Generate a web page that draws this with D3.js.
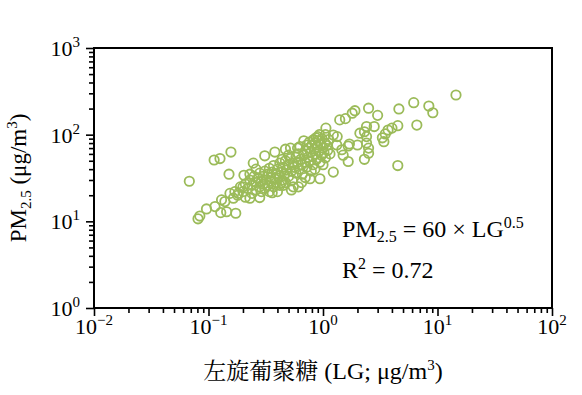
<!DOCTYPE html>
<html>
<head>
<meta charset="utf-8">
<title></title>
<script src="https://cdn.jsdelivr.net/npm/d3@7"></script>
<style>
  body { margin: 0; background: #fff; }
  text { font-family: "Liberation Serif", "Times New Roman", serif; fill: #000; }
</style>
</head>
<body>
<div id="chart"></div>
<script>
// LG (x, ug/m3) and PM2.5 (y, ug/m3)
var lg = [0.068, 14.5, 6.2, 8.4, 9.1, 4.6, 2.5, 3.0, 1.9, 1.8, 1.57, 1.4, 4.5, 6.6, 4.5, 4.0, 3.7, 3.5, 3.4, 2.8,
  2.4, 2.4, 2.5, 2.5, 2.3, 2.1, 2.0, 1.7, 1.66, 1.66, 1.5, 1.33, 1.32, 1.23, 1.06, 0.94, 0.77, 3.3, 2.3, 2.4,
  1.46, 1.23,
  0.112, 0.126, 0.157, 0.151, 0.081, 0.084, 0.096, 0.114, 0.128, 0.144, 0.173, 0.13, 0.139, 0.154, 0.165, 0.182, 0.2, 0.204,
  0.246, 0.31, 0.38, 0.47, 0.52, 0.63, 0.53, 0.61, 0.435, 0.36, 0.28, 0.23,
  0.20, 0.21, 0.22, 0.23, 0.24, 0.24, 0.25, 0.26, 0.26, 0.27, 0.28, 0.28, 0.29, 0.29, 0.30, 0.30, 0.31, 0.31, 0.32, 0.33,
  0.33, 0.34, 0.34, 0.35, 0.35, 0.36, 0.37, 0.37, 0.38, 0.39, 0.39, 0.40, 0.41, 0.42, 0.42, 0.43, 0.44, 0.45, 0.46, 0.47,
  0.47, 0.48, 0.50, 0.50, 0.52, 0.53, 0.54, 0.55, 0.56, 0.58, 0.58, 0.60, 0.61, 0.62, 0.64, 0.65, 0.66, 0.68, 0.70, 0.70,
  0.72, 0.74, 0.75, 0.76, 0.78, 0.79, 0.80, 0.81, 0.82, 0.84, 0.85, 0.86, 0.88, 0.90, 0.91, 0.92, 0.94, 0.95, 0.97, 0.98,
  1.00, 1.02, 1.04, 1.05, 1.08, 1.10, 1.12, 1.15, 0.18, 0.19, 0.17, 0.21, 0.23, 0.26, 0.55, 0.65, 0.45, 0.40, 0.70, 0.85,
  1.00, 0.90, 1.05, 0.60, 0.50, 0.44, 0.83, 0.93, 0.87, 0.76, 0.72, 0.68];
var pm = [29, 287, 234, 214, 179, 198, 202, 167, 189, 177, 153, 148, 44, 129, 127, 119, 113, 102, 83, 124,
  124, 95, 70, 61, 52, 104, 76, 78, 74, 49, 58, 95, 76, 37, 119, 31, 31, 92, 108, 80,
  67, 99,
  51, 53, 63, 35, 10.7, 11.5, 13.9, 14.8, 12.6, 12.9, 12.4, 17.7, 16.9, 21, 18.5, 21, 25, 34,
  47, 57, 63, 68, 70, 73, 23, 25, 28, 21.4, 18.8, 18.5,
  22, 27, 24, 30, 21, 26, 33, 23, 28, 31, 25, 36, 22, 29, 27, 33, 24, 38, 30, 26,
  35, 22, 41, 29, 32, 37, 25, 44, 31, 28, 35, 40, 33, 26, 47, 37, 30, 42, 35, 28,
  50, 39, 45, 33, 53, 38, 30, 47, 42, 55, 36, 48, 60, 40, 52, 45, 35, 58, 65, 48,
  42, 55, 70, 50, 62, 38, 75, 56, 45, 68, 80, 60, 52, 72, 85, 64, 48, 78, 58, 90,
  70, 62, 80, 54, 75, 66, 88, 60, 20, 25, 22, 19, 35, 40, 25, 28, 26, 22, 32, 40,
  45, 95, 100, 70, 58, 52, 88, 100, 92, 82, 76, 85];

var xExp = [-2, -1, 0, 1, 2];
var yExp = [0, 1, 2, 3];

drawChart();

function drawChart() {
    var width = 582, height = 395;
    var mLeft = 94, mRight = 552, mTop = 48, mBottom = 308;

    var svg = d3.select("#chart").append("svg")
        .attr("width", width)
        .attr("height", height);

    svg.append("rect").attr("width", width).attr("height", height).attr("fill", "#fff");

    var x = d3.scaleLog().domain([0.01, 100]).range([mLeft, mRight]);
    var y = d3.scaleLog().domain([1, 1000]).range([mBottom, mTop]);

    function minors(lo, hi) {
        var out = [];
        for (var e = lo; e < hi; e++) {
            for (var k = 2; k <= 9; k++) out.push(k * Math.pow(10, e));
        }
        return out;
    }
    var xMajor = xExp.map(function(e) { return Math.pow(10, e); });
    var yMajor = yExp.map(function(e) { return Math.pow(10, e); });

    // ticks
    function styleAxis(g) {
        g.select(".domain").remove();
        g.selectAll("line").attr("stroke", "#000").attr("stroke-width", 1.6);
    }
    svg.append("g").attr("transform", "translate(0," + mBottom + ")")
        .call(d3.axisBottom(x).tickValues(xMajor).tickSize(8).tickFormat(""))
        .call(styleAxis);
    svg.append("g").attr("transform", "translate(0," + mBottom + ")")
        .call(d3.axisBottom(x).tickValues(minors(-2, 2)).tickSize(5).tickFormat(""))
        .call(styleAxis);
    svg.append("g").attr("transform", "translate(" + mLeft + ",0)")
        .call(d3.axisLeft(y).tickValues(yMajor).tickSize(8).tickFormat(""))
        .call(styleAxis);
    svg.append("g").attr("transform", "translate(" + mLeft + ",0)")
        .call(d3.axisLeft(y).tickValues(minors(0, 3)).tickSize(5).tickFormat(""))
        .call(styleAxis);

    // frame
    svg.append("rect")
        .attr("x", mLeft).attr("y", mTop)
        .attr("width", mRight - mLeft).attr("height", mBottom - mTop)
        .attr("fill", "none").attr("stroke", "#000").attr("stroke-width", 2);

    // tick labels
    var xl = svg.selectAll(".xl").data(xExp).enter().append("text")
        .attr("class", "xl")
        .attr("x", function(d) { return x(Math.pow(10, d)); })
        .attr("y", 334)
        .attr("text-anchor", "middle")
        .style("font-size", "22px")
        .text("10");
    xl.append("tspan").attr("dy", -9).style("font-size", "15px")
        .text(function(d) { return d < 0 ? "\u2212" + (-d) : d; });

    var yl = svg.selectAll(".yl").data(yExp).enter().append("text")
        .attr("class", "yl")
        .attr("x", 80)
        .attr("y", function(d) { return y(Math.pow(10, d)) + 8; })
        .attr("text-anchor", "end")
        .style("font-size", "22px")
        .text("10");
    yl.append("tspan").attr("dy", -9).style("font-size", "15px")
        .text(function(d) { return d; });

    // points
    svg.append("g").selectAll("circle")
        .data(lg)
        .enter().append("circle")
        .attr("cx", function(d) { return x(d); })
        .attr("cy", function(d, i) { return y(pm[i]); })
        .attr("r", 4.7)
        .attr("fill", "none")
        .attr("stroke", "#9bbb59")
        .attr("stroke-width", 1.8);

    // axis titles
    var xt = svg.append("text")
        .attr("x", (mLeft + mRight) / 2).attr("y", 379)
        .attr("text-anchor", "middle")
        .style("font-size", "24px");
    xt.append("tspan").style("font-family", "'Noto Serif CJK SC', 'Noto Sans CJK SC', serif").style("font-size", "23px").text("左旋葡聚糖");
    xt.append("tspan").text(" (LG; μg/m");
    xt.append("tspan").attr("dy", -9).style("font-size", "15px").text("3");
    xt.append("tspan").attr("dy", 9).text(")");

    var yt = svg.append("text")
        .attr("transform", "translate(26," + ((mTop + mBottom) / 2) + ") rotate(-90)")
        .attr("text-anchor", "middle")
        .style("font-size", "23px");
    yt.append("tspan").text("PM");
    yt.append("tspan").attr("dy", 5).style("font-size", "15px").text("2.5");
    yt.append("tspan").attr("dy", -5).text(" (μg/m");
    yt.append("tspan").attr("dy", -9).style("font-size", "15px").text("3");
    yt.append("tspan").attr("dy", 9).text(")");

    // fit annotation
    var eq = svg.append("text").attr("x", 342).attr("y", 237).style("font-size", "24px");
    eq.append("tspan").text("PM");
    eq.append("tspan").attr("dy", 5).style("font-size", "16px").text("2.5");
    eq.append("tspan").attr("dy", -5).text(" = 60 × LG");
    eq.append("tspan").attr("dy", -9).style("font-size", "16px").text("0.5");

    var r2 = svg.append("text").attr("x", 342).attr("y", 278).style("font-size", "24px");
    r2.append("tspan").text("R");
    r2.append("tspan").attr("dy", -9).style("font-size", "16px").text("2");
    r2.append("tspan").attr("dy", 9).text(" = 0.72");
}
</script>
</body>
</html>
